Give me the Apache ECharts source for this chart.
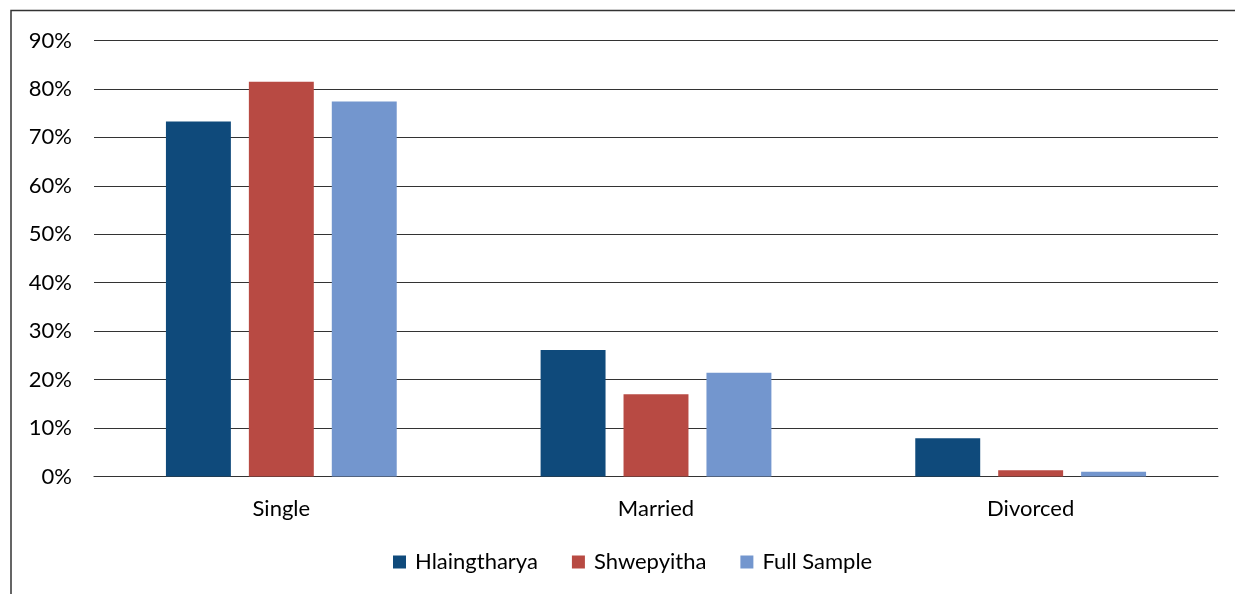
<!DOCTYPE html>
<html>
<head>
<meta charset="utf-8">
<script src="https://cdn.jsdelivr.net/npm/echarts@6/dist/echarts.min.js"></script>
<style>
  html, body { margin: 0; padding: 0; background: #fff; }
  #main { width: 1235px; height: 594px; }
</style>
</head>
<body>
<div id="main"></div>
<script>
var categories = ["Single", "Married", "Divorced"];
var hlaingtharya = [73.3, 26.1, 7.9];
var shwepyitha = [81.5, 17.0, 1.3];
var fullSample = [77.4, 21.4, 1.0];
var yTicks = [0, 10, 20, 30, 40, 50, 60, 70, 80, 90];

var font = "Lato, 'Open Sans', sans-serif";
var myChart = echarts.init(document.getElementById("main"));

var option = {
  animation: false,
  textStyle: { fontFamily: font },
  grid: { left: 94, right: 17, top: 40.5, bottom: 117.5 },
  graphic: [
    {
      type: "polyline",
      shape: { points: [[11, 594], [11, 10.5], [1235, 10.5]] },
      style: { stroke: "#333", lineWidth: 1.5, fill: null }
    }
  ],
  legend: {
    bottom: 16,
    left: 388,
    itemWidth: 13,
    itemHeight: 13,
    itemGap: 34,
    icon: "rect",
    textStyle: { fontSize: 22, color: "#000", fontFamily: font, padding: [0, 0, 0, 4] }
  },
  xAxis: {
    type: "category",
    data: categories,
    axisLine: { lineStyle: { color: "#333", width: 1.2 } },
    axisTick: { show: false },
    axisLabel: { fontSize: 22, color: "#000", margin: 21 }
  },
  yAxis: {
    type: "value",
    min: yTicks[0],
    max: yTicks[yTicks.length - 1],
    interval: 10,
    axisLine: { show: false },
    axisTick: { show: false },
    splitLine: { lineStyle: { color: "#333", width: 1.2 } },
    axisLabel: { fontSize: 22, color: "#000", margin: 22, formatter: "{value}%" }
  },
  series: [
    {
      name: "Hlaingtharya", type: "bar", data: hlaingtharya,
      barGap: "27.7%", barCategoryGap: "38.4%",
      itemStyle: { color: "#0F4A7B" }
    },
    {
      name: "Shwepyitha", type: "bar", data: shwepyitha,
      itemStyle: { color: "#B84A43" }
    },
    {
      name: "Full Sample", type: "bar", data: fullSample,
      itemStyle: { color: "#7396CE" }
    }
  ]
};

myChart.setOption(option);
</script>
</body>
</html>
